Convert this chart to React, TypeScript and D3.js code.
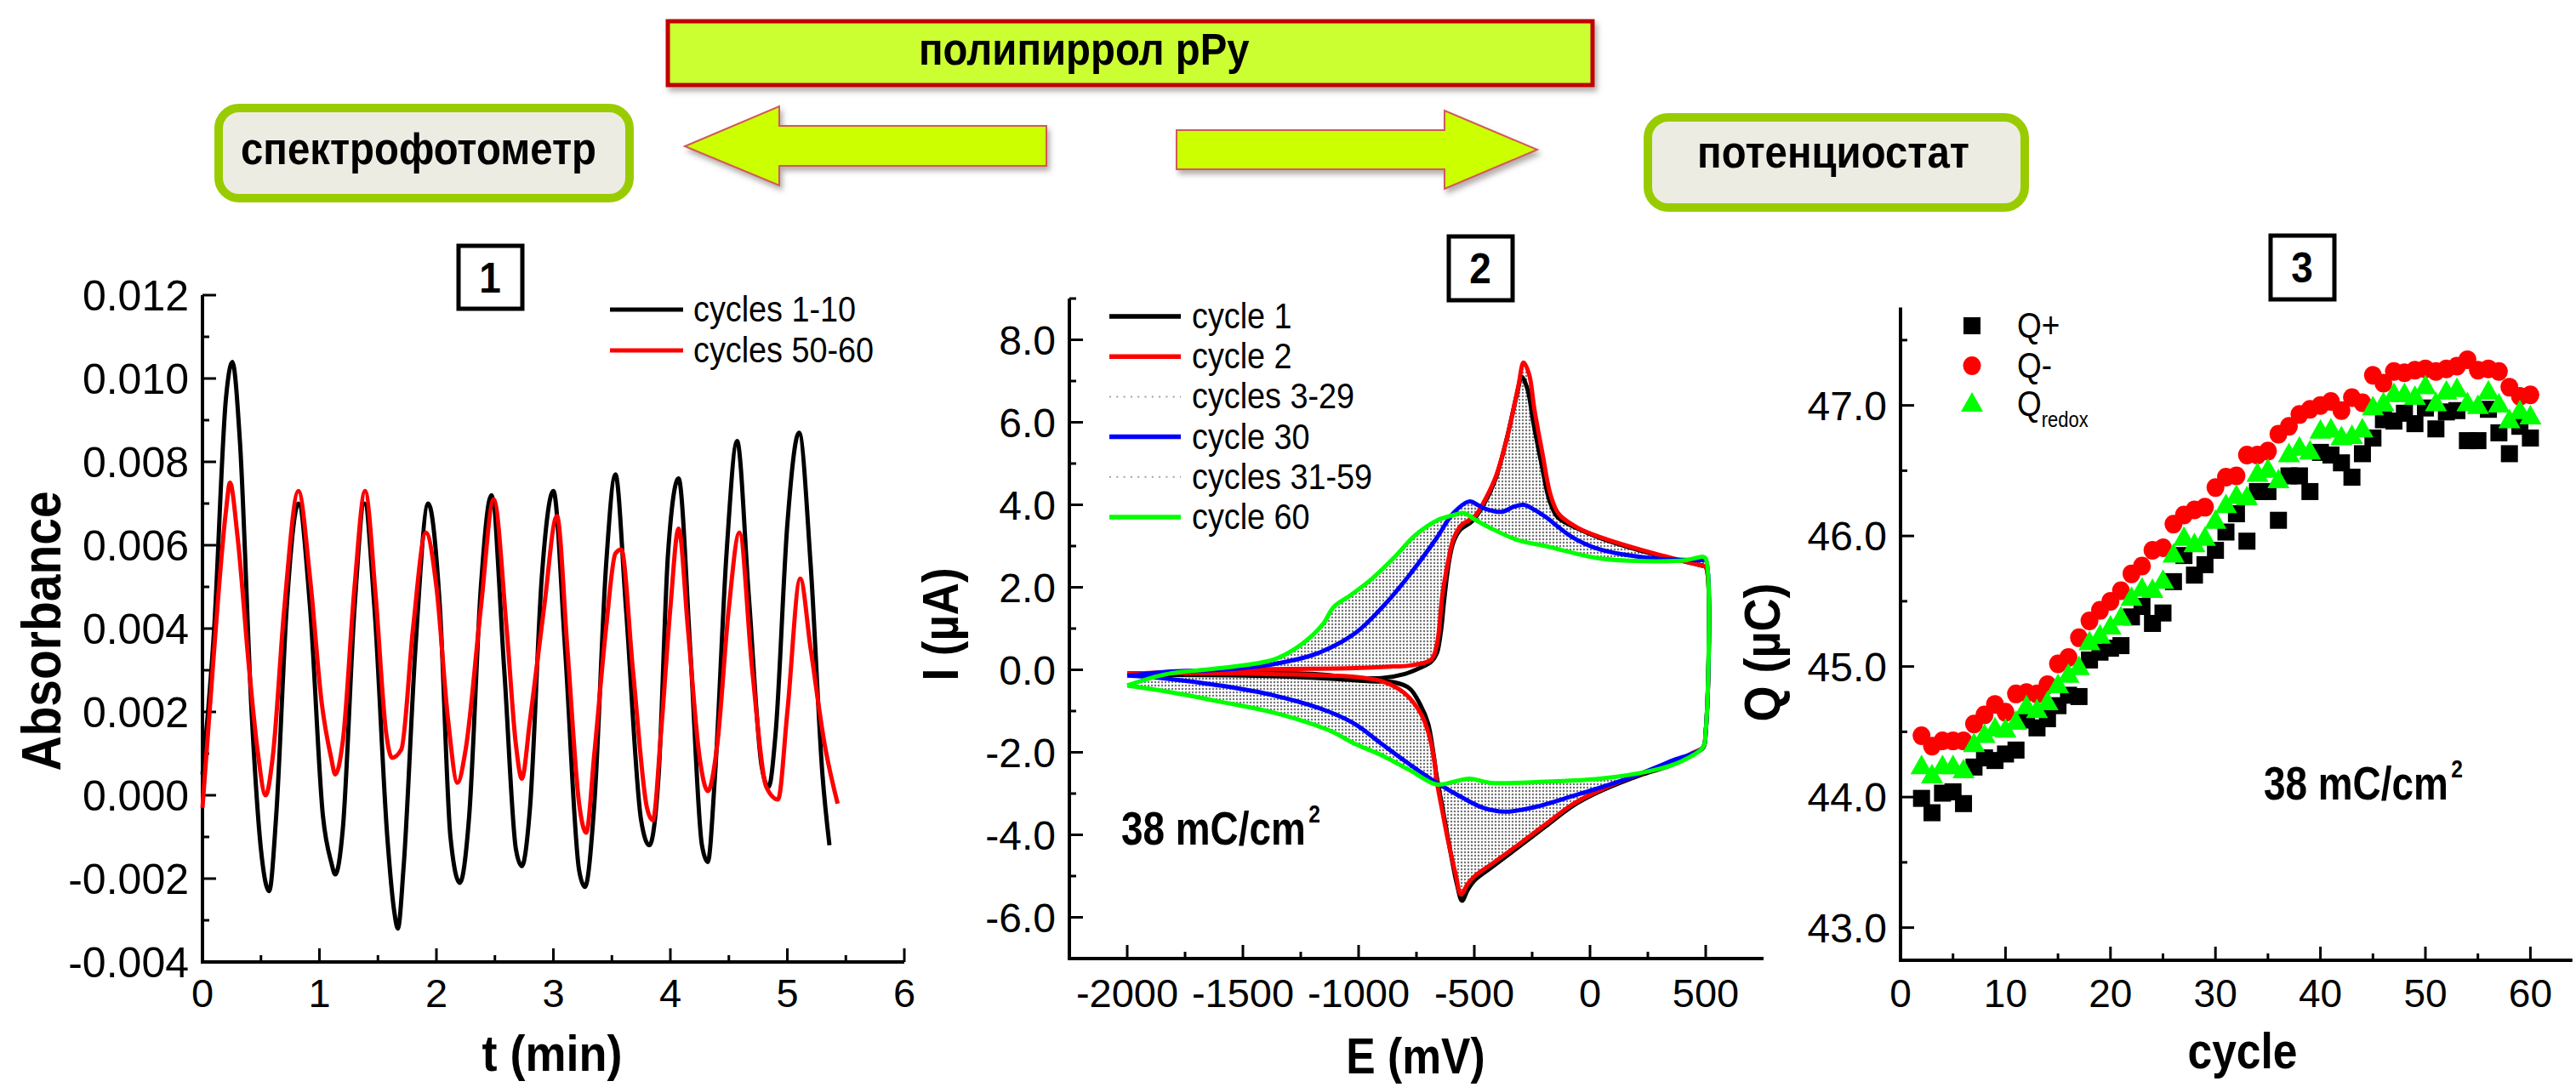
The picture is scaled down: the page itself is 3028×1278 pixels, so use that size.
import React from "react";
import * as d3 from "d3";

const W = 3028;
const H = 1278;
const FONT = "'Liberation Sans', Arial, Helvetica, sans-serif";

// ---------------- Panel 1 : Absorbance vs t ----------------
const absTicksY = [-0.004, -0.002, 0, 0.002, 0.004, 0.006, 0.008, 0.01, 0.012];
const absTickLabelsY = ["-0.004", "-0.002", "0.000", "0.002", "0.004", "0.006", "0.008", "0.010", "0.012"];
const absMinorY = [-0.003, -0.001, 0.001, 0.003, 0.005, 0.007, 0.009, 0.011];
const timeTicks = [0, 1, 2, 3, 4, 5, 6];
const timeMinor = [0.5, 1.5, 2.5, 3.5, 4.5, 5.5];

const absCycles1to10 = [
  [0, 0.0005], [0.1, 0.004], [0.2, 0.0095], [0.255, 0.0104], [0.32, 0.0085], [0.42, 0.002], [0.5, -0.0013], [0.57, -0.0023],
  [0.63, -0.0005], [0.72, 0.0045], [0.82, 0.007], [0.92, 0.0045], [1.03, -0.0005], [1.1, -0.0016], [1.135, -0.0019],
  [1.2, -0.0008], [1.3, 0.0045], [1.385, 0.007], [1.47, 0.0045], [1.58, -0.001], [1.64, -0.0028], [1.67, -0.0032],
  [1.72, -0.0017], [1.82, 0.0035], [1.93, 0.007], [2.03, 0.0045], [2.12, -0.001], [2.2, -0.0021], [2.28, -0.0005],
  [2.38, 0.005], [2.47, 0.0072], [2.58, 0.003], [2.68, -0.0013], [2.73, -0.0017], [2.8, -0.0003], [2.9, 0.0052],
  [3.0, 0.0073], [3.1, 0.0035], [3.22, -0.0018], [3.27, -0.0022], [3.35, -0.0002], [3.45, 0.0055], [3.53, 0.0077],
  [3.62, 0.0045], [3.75, -0.0006], [3.82, -0.0012], [3.9, 0.0005], [3.98, 0.0058], [4.07, 0.0076], [4.17, 0.0035],
  [4.27, -0.0012], [4.32, -0.0016], [4.38, 0.0004], [4.48, 0.0058], [4.57, 0.0085], [4.67, 0.0048], [4.78, 0.0007],
  [4.84, 0.0002], [4.9, 0.0015], [5.0, 0.0065], [5.1, 0.0087], [5.2, 0.0055], [5.3, 0.0005], [5.36, -0.0012],
];
const absCycles50to60 = [
  [0, -0.0003], [0.1, 0.0035], [0.2, 0.0068], [0.235, 0.0075], [0.3, 0.0062], [0.4, 0.003], [0.47, 0.0011], [0.54, 0.0],
  [0.6, 0.0009], [0.7, 0.0045], [0.82, 0.0073], [0.92, 0.0052], [1.02, 0.0022], [1.1, 0.0009], [1.135, 0.0005],
  [1.2, 0.0013], [1.3, 0.005], [1.39, 0.0073], [1.48, 0.0048], [1.57, 0.0015], [1.62, 0.0009], [1.7, 0.0011],
  [1.8, 0.004], [1.91, 0.0063], [2.0, 0.005], [2.1, 0.0018], [2.18, 0.0003], [2.25, 0.0011], [2.38, 0.0045],
  [2.49, 0.0071], [2.6, 0.004], [2.68, 0.0012], [2.73, 0.0004], [2.8, 0.0018], [2.92, 0.0045], [3.03, 0.0067],
  [3.12, 0.0035], [3.22, -0.0002], [3.28, -0.0009], [3.35, 0.001], [3.45, 0.004], [3.53, 0.0058], [3.58, 0.0059],
  [3.68, 0.003], [3.8, -0.0003], [3.85, -0.0006], [3.92, 0.0015], [4.0, 0.0045], [4.07, 0.0064], [4.15, 0.004],
  [4.25, 0.0009], [4.32, 0.0001], [4.4, 0.0012], [4.5, 0.0045], [4.59, 0.0063], [4.7, 0.003], [4.82, 0.0002],
  [4.92, -0.0001], [5.0, 0.002], [5.11, 0.0052], [5.2, 0.0035], [5.32, 0.0012], [5.43, -0.0002],
];

// ---------------- Panel 2 : cyclic voltammograms ----------------
const cvTicksY = [-6, -4, -2, 0, 2, 4, 6, 8];
const cvTickLabelsY = ["-6.0", "-4.0", "-2.0", "0.0", "2.0", "4.0", "6.0", "8.0"];
const cvMinorY = [-5, -3, -1, 1, 3, 5, 7, 9];
const cvTicksX = [-2000, -1500, -1000, -500, 0, 500];
const cvTickLabelsX = ["-2000", "-1500", "-1000", "-500", "0", "500"];
const cvMinorX = [-1750, -1250, -750, -250, 250];

const cycle1Anodic = [
  [-2000, -0.12], [-1600, -0.08], [-1200, -0.1], [-1000, -0.2], [-900, -0.2], [-800, -0.1], [-733, 0.05], [-686, 0.2],
  [-662, 0.4], [-645, 0.9], [-630, 1.7], [-610, 2.6], [-590, 3.1], [-560, 3.4], [-510, 3.6], [-460, 4.0], [-410, 4.6],
  [-360, 5.6], [-315, 6.7], [-295, 7.1], [-270, 6.8], [-245, 6.0], [-210, 5.0], [-175, 4.1], [-140, 3.7], [-52, 3.42],
  [42, 3.2], [277, 2.8], [488, 2.52], [500, 2.5],
];
const cycle1Cathodic = [
  [500, -1.5], [488, -1.9], [441, -2.05], [347, -2.32], [230, -2.53], [42, -2.95], [-75, -3.3], [-193, -3.8],
  [-310, -4.3], [-428, -4.8], [-498, -5.1], [-530, -5.35], [-553, -5.6], [-575, -5.2], [-610, -4.2], [-639, -3.3],
  [-662, -2.6], [-680, -1.9], [-700, -1.3], [-733, -0.85], [-780, -0.45], [-850, -0.3], [-950, -0.28], [-1100, -0.22],
  [-1400, -0.15], [-2000, -0.12],
];
const cycle2Anodic = [
  [-2000, -0.1], [-1800, -0.05], [-1600, 0.0], [-1300, 0.02], [-1014, 0.04], [-850, 0.08], [-780, 0.1], [-686, 0.25],
  [-662, 0.61], [-651, 1.05], [-639, 1.77], [-615, 2.57], [-592, 3.14], [-557, 3.5], [-498, 3.72], [-451, 4.15],
  [-404, 4.73], [-357, 5.66], [-310, 6.87], [-287, 7.45], [-263, 7.16], [-240, 6.3], [-205, 5.23], [-170, 4.23],
  [-134, 3.77], [-52, 3.44], [42, 3.22], [277, 2.82], [488, 2.52], [500, 2.5],
];
const cycle2Cathodic = [
  [500, -1.5], [488, -1.88], [441, -2.02], [347, -2.29], [230, -2.5], [42, -2.92], [-75, -3.26], [-193, -3.75],
  [-310, -4.24], [-428, -4.72], [-498, -5.0], [-530, -5.2], [-557, -5.45], [-580, -4.97], [-615, -4.1], [-639, -3.4],
  [-662, -2.71], [-674, -2.16], [-698, -1.53], [-733, -1.04], [-803, -0.56], [-897, -0.28], [-1000, -0.18],
  [-1131, -0.14], [-1600, -0.08], [-2000, -0.08],
];
const cycle30Anodic = [
  [-2000, -0.15], [-1835, -0.05], [-1600, 0.0], [-1366, 0.14], [-1178, 0.4], [-1014, 0.89], [-897, 1.52], [-780, 2.3],
  [-662, 3.2], [-592, 3.79], [-522, 4.08], [-480, 3.98], [-451, 3.9], [-381, 3.83], [-330, 3.95], [-287, 4.0],
  [-240, 3.88], [-193, 3.71], [-75, 3.21], [42, 2.92], [277, 2.7], [488, 2.66], [500, 2.66],
];
const cycle30Cathodic = [
  [500, -1.5], [488, -1.88], [347, -2.22], [159, -2.64], [-75, -3.06], [-240, -3.33], [-369, -3.44], [-460, -3.35],
  [-545, -3.12], [-662, -2.74], [-780, -2.29], [-897, -1.81], [-1014, -1.32], [-1131, -1.01], [-1366, -0.62],
  [-1600, -0.38], [-1835, -0.21], [-2000, -0.14],
];
const cycle60Anodic = [
  [-2000, -0.38], [-1835, -0.11], [-1600, 0.04], [-1366, 0.25], [-1249, 0.61], [-1155, 1.1], [-1108, 1.52],
  [-1037, 1.8], [-944, 2.2], [-850, 2.7], [-756, 3.26], [-662, 3.62], [-590, 3.75], [-545, 3.8], [-500, 3.65],
  [-428, 3.43], [-310, 3.14], [-193, 3.0], [42, 2.7], [277, 2.63], [418, 2.66], [488, 2.74], [500, 2.7],
];
const cycle60Cathodic = [
  [500, -1.5], [488, -1.88], [394, -2.22], [277, -2.43], [42, -2.64], [-193, -2.71], [-428, -2.74], [-522, -2.64],
  [-580, -2.7], [-662, -2.78], [-780, -2.43], [-897, -2.08], [-1014, -1.8], [-1131, -1.46], [-1366, -1.04],
  [-1600, -0.77], [-1835, -0.52], [-2000, -0.38],
];

// ---------------- Panel 3 : charge vs cycle ----------------
const qTicksY = [43, 44, 45, 46, 47];
const qTickLabelsY = ["43.0", "44.0", "45.0", "46.0", "47.0"];
const qMinorY = [43.5, 44.5, 45.5, 46.5, 47.5];
const cycleTicks = [0, 10, 20, 30, 40, 50, 60];
const cycleMinor = [5, 15, 25, 35, 45, 55];
const cycleNumbers = d3.range(2, 61);
const qPlus = [
  43.99, 43.88, 44.03, 44.04, 43.95, 44.23, 44.3, 44.28, 44.33, 44.36, 44.59, 44.53, 44.6, 44.7, 44.78, 44.77, 45.05,
  45.11, 45.14, 45.16, 45.38, 45.46, 45.33, 45.41, 45.65, 45.85, 45.7, 45.78, 45.89, 46.03, 46.17, 45.96, 46.34, 46.34,
  46.12, 46.46, 46.46, 46.34, 46.64, 46.62, 46.56, 46.45, 46.63, 46.75, 46.89, 46.88, 46.94, 46.86, 46.98, 46.82,
  46.95, 46.96, 46.73, 46.73, 46.97, 46.79, 46.63, 46.84, 46.75,
];
const qMinus = [
  44.47, 44.39, 44.43, 44.43, 44.43, 44.56, 44.63, 44.71, 44.65, 44.79, 44.8, 44.79, 44.86, 45.02, 45.07, 45.22, 45.35,
  45.43, 45.5, 45.58, 45.71, 45.77, 45.89, 45.91, 46.09, 46.16, 46.2, 46.22, 46.37, 46.45, 46.46, 46.62, 46.62, 46.65,
  46.78, 46.84, 46.93, 46.97, 47.0, 47.03, 46.96, 47.06, 47.02, 47.23, 47.17, 47.26, 47.25, 47.27, 47.28, 47.26,
  47.28, 47.3, 47.35, 47.27, 47.28, 47.26, 47.14, 47.07, 47.08,
];
const qRedox = [
  44.24, 44.17, 44.24, 44.24, 44.21, 44.41, 44.48, 44.53, 44.52, 44.58, 44.7, 44.67, 44.73, 44.86, 44.94, 45.0, 45.19,
  45.24, 45.31, 45.38, 45.53, 45.6, 45.59, 45.66, 45.86, 45.99, 45.94, 45.99, 46.12, 46.24, 46.31, 46.3, 46.48, 46.51,
  46.43, 46.63, 46.68, 46.65, 46.81, 46.82, 46.76, 46.77, 46.82, 46.99, 47.02, 47.09, 47.09, 47.07, 47.15, 47.02,
  47.11, 47.13, 47.02, 47.0, 47.11, 47.01, 46.89, 46.96, 46.92,
];

const AXW = 4;
const MAJ = 16;
const MIN = 8;

// condensed text helper (scaled along the writing direction)
function CT({ x, y, size, sx = 1, rot = 0, bold = false, anchor = "start", children }: any) {
  return (
    <text
      transform={`translate(${x},${y}) rotate(${rot}) scale(${sx},1)`}
      fontSize={size}
      fontFamily={FONT}
      fontWeight={bold ? 700 : 400}
      textAnchor={anchor}
      fill="#000"
    >
      {children}
    </text>
  );
}

function AxisFrame({ xs, ys, xDom, yDom, xMajor, xMinor, yMajor, yMinor, xLabels, yLabels, ySize, xSize }: any) {
  const [xa, xb] = xDom;
  const [ya, yb] = yDom;
  const X0 = xs(xa);
  const X1 = xs(xb);
  const Y0 = ys(ya);
  const Y1 = ys(yb);
  return (
    <g>
      <line x1={X0} y1={Y1} x2={X0} y2={Y0} stroke="#000" strokeWidth={AXW} />
      <line x1={X0 - 2} y1={Y0} x2={X1} y2={Y0} stroke="#000" strokeWidth={AXW} />
      {yMajor.map((v: number) => (
        <line key={"ym" + v} x1={X0} x2={X0 + MAJ} y1={ys(v)} y2={ys(v)} stroke="#000" strokeWidth={3} />
      ))}
      {yMinor.map((v: number) => (
        <line key={"yn" + v} x1={X0} x2={X0 + MIN} y1={ys(v)} y2={ys(v)} stroke="#000" strokeWidth={3} />
      ))}
      {xMajor.map((v: number) => (
        <line key={"xm" + v} x1={xs(v)} x2={xs(v)} y1={Y0} y2={Y0 - MAJ} stroke="#000" strokeWidth={3} />
      ))}
      {xMinor.map((v: number) => (
        <line key={"xn" + v} x1={xs(v)} x2={xs(v)} y1={Y0} y2={Y0 - MIN} stroke="#000" strokeWidth={3} />
      ))}
      {yMajor.map((v: number, i: number) => (
        <text key={"yl" + v} x={X0 - 16} y={ys(v) + ySize * 0.36} textAnchor="end" fontSize={ySize} fontFamily={FONT}>
          {yLabels[i]}
        </text>
      ))}
      {xMajor.map((v: number, i: number) => (
        <text key={"xl" + v} x={xs(v)} y={1184} textAnchor="middle" fontSize={xSize} fontFamily={FONT}>
          {xLabels[i]}
        </text>
      ))}
    </g>
  );
}

export default function App() {
  const x1 = d3.scaleLinear().domain([0, 6]).range([238, 1063]);
  const y1 = d3.scaleLinear().domain([-0.004, 0.012]).range([1131, 347]);
  const x2 = d3.scaleLinear().domain([-2250, 750]).range([1257, 2073]);
  const y2 = d3.scaleLinear().domain([-7, 9]).range([1127, 351]);
  const x3 = d3.scaleLinear().domain([0, 64]).range([2234, 2234 + 64 * 12.34]);
  const y3 = d3.scaleLinear().domain([42.75, 47.75]).range([1129, 361.5]);

  const line1 = d3
    .line()
    .x((d: any) => x1(d[0]))
    .y((d: any) => y1(d[1]))
    .curve(d3.curveMonotoneX);
  const line2 = d3
    .line()
    .x((d: any) => x2(d[0]))
    .y((d: any) => y2(d[1]))
    .curve(d3.curveCatmullRom.alpha(0.5));
  const loop = (a: any[], c: any[]) => line2([...a, ...c] as any) as string;

  const c1 = loop(cycle1Anodic, cycle1Cathodic);
  const c2 = loop(cycle2Anodic, cycle2Cathodic);
  const c30 = loop(cycle30Anodic, cycle30Cathodic);
  const c60 = loop(cycle60Anodic, cycle60Cathodic);

  const legend2 = [
    { label: "cycle 1", color: "#000", dotted: false },
    { label: "cycle 2", color: "#ff0000", dotted: false },
    { label: "cycles 3-29", color: "#a0a0a0", dotted: true },
    { label: "cycle 30", color: "#0000ff", dotted: false },
    { label: "cycles 31-59", color: "#a0a0a0", dotted: true },
    { label: "cycle 60", color: "#00ff00", dotted: false },
  ];

  return (
    <svg
      width={W}
      height={H}
      viewBox={`0 0 ${W} ${H}`}
      style={{ position: "absolute", left: 0, top: 0, background: "#fff" }}
    >
      <defs>
        <filter id="shadow" x="-10%" y="-20%" width="130%" height="160%">
          <feDropShadow dx="3" dy="5" stdDeviation="3" floodColor="#7a6a6a" floodOpacity="0.55" />
        </filter>
        <pattern id="dots" width="4" height="4" patternUnits="userSpaceOnUse">
          <circle cx="2" cy="2" r="1.25" fill="#757575" />
        </pattern>
      </defs>
      <rect x={0} y={0} width={W} height={H} fill="#fff" />

      {/* ---------- top scheme ---------- */}
      <rect x={785} y={25} width={1087} height={75} fill="#ccff33" stroke="#c00000" strokeWidth={5} filter="url(#shadow)" />
      <CT x={1080} y={76} size={52} sx={0.91} bold>
        полипиррол pPy
      </CT>

      <rect x={257} y={127} width={483} height={106} rx={24} fill="#edece2" stroke="#99cc00" strokeWidth={10} />
      <CT x={492} y={193} size={52} sx={0.91} bold anchor="middle">
        спектрофотометр
      </CT>

      <rect x={1937} y={138} width={443} height={106} rx={24} fill="#edece2" stroke="#99cc00" strokeWidth={10} />
      <CT x={2155} y={197} size={52} sx={0.91} bold anchor="middle">
        потенциостат
      </CT>

      <polygon
        points="805,172 916,125 916,148 1230,148 1230,195 916,195 916,218"
        fill="#ccff00"
        stroke="#d05a5a"
        strokeWidth={2}
        filter="url(#shadow)"
      />
      <polygon
        points="1383,153 1698,153 1698,130 1807,176 1698,222 1698,199 1383,199"
        fill="#ccff00"
        stroke="#d05a5a"
        strokeWidth={2}
        filter="url(#shadow)"
      />

      {/* ---------- panel labels ---------- */}
      <rect x={539} y={289} width={75} height={74} fill="#fff" stroke="#000" strokeWidth={5} />
      <CT x={576} y={344} size={50} sx={0.92} bold anchor="middle">1</CT>
      <rect x={1703} y={278} width={75} height={75} fill="#fff" stroke="#000" strokeWidth={5} />
      <CT x={1740} y={333} size={50} sx={0.92} bold anchor="middle">2</CT>
      <rect x={2669} y={277} width={75} height={75} fill="#fff" stroke="#000" strokeWidth={5} />
      <CT x={2706} y={332} size={50} sx={0.92} bold anchor="middle">3</CT>

      {/* ---------- panel 1 ---------- */}
      <AxisFrame
        xs={x1}
        ys={y1}
        xDom={[0, 6]}
        yDom={[-0.004, 0.012]}
        xMajor={timeTicks}
        xMinor={timeMinor}
        yMajor={absTicksY}
        yMinor={absMinorY}
        xLabels={timeTicks.map(String)}
        yLabels={absTickLabelsY}
        ySize={50}
        xSize={47}
      />
      <path d={line1(absCycles1to10 as any) as string} fill="none" stroke="#000" strokeWidth={5} strokeLinejoin="round" />
      <path d={line1(absCycles50to60 as any) as string} fill="none" stroke="#ff0000" strokeWidth={5} strokeLinejoin="round" />
      <line x1={717} x2={803} y1={364} y2={364} stroke="#000" strokeWidth={5} />
      <CT x={815} y={378} size={42} sx={0.9}>cycles 1-10</CT>
      <line x1={717} x2={803} y1={412} y2={412} stroke="#ff0000" strokeWidth={5} />
      <CT x={815} y={426} size={42} sx={0.9}>cycles 50-60</CT>
      <CT x={71} y={742} rot={-90} size={64} sx={0.89} bold anchor="middle">
        Absorbance
      </CT>
      <CT x={649} y={1259} size={60} sx={0.9} bold anchor="middle">
        t (min)
      </CT>

      {/* ---------- panel 2 ---------- */}
      <path d={c2 + c30} fill="url(#dots)" fillRule="evenodd" stroke="none" />
      <path d={c30 + c60} fill="url(#dots)" fillRule="evenodd" stroke="none" />
      <AxisFrame
        xs={x2}
        ys={y2}
        xDom={[-2250, 750]}
        yDom={[-7, 9]}
        xMajor={cvTicksX}
        xMinor={cvMinorX}
        yMajor={cvTicksY}
        yMinor={cvMinorY}
        xLabels={cvTickLabelsX}
        yLabels={cvTickLabelsY}
        ySize={48}
        xSize={47}
      />
      <path d={c1} fill="none" stroke="#000" strokeWidth={5} strokeLinejoin="round" />
      <path d={c2} fill="none" stroke="#ff0000" strokeWidth={5} strokeLinejoin="round" />
      <path d={c30} fill="none" stroke="#0000ff" strokeWidth={5} strokeLinejoin="round" />
      <path d={c60} fill="none" stroke="#00ff00" strokeWidth={5} strokeLinejoin="round" />
      {legend2.map((e, i) => {
        const yy = 372 + i * 47.2;
        return (
          <g key={e.label}>
            <line
              x1={1304}
              x2={1388}
              y1={yy}
              y2={yy}
              stroke={e.color}
              strokeWidth={e.dotted ? 2 : 5.5}
              strokeDasharray={e.dotted ? "2,6.3" : undefined}
            />
            <CT x={1401} y={yy + 14} size={42} sx={0.9}>
              {e.label}
            </CT>
          </g>
        );
      })}
      <CT x={1318} y={993} size={56} sx={0.82} bold>
        38 mC/cm
        <tspan dx={4} dy={-26} fontSize={30}>2</tspan>
      </CT>
      <CT x={1126} y={734} rot={-90} size={60} sx={0.88} bold anchor="middle">
        I (µA)
      </CT>
      <CT x={1664} y={1262} size={60} sx={0.86} bold anchor="middle">
        E (mV)
      </CT>

      {/* ---------- panel 3 ---------- */}
      <AxisFrame
        xs={x3}
        ys={y3}
        xDom={[0, 64]}
        yDom={[42.75, 47.75]}
        xMajor={cycleTicks}
        xMinor={cycleMinor}
        yMajor={qTicksY}
        yMinor={qMinorY}
        xLabels={cycleTicks.map(String)}
        yLabels={qTickLabelsY}
        ySize={48}
        xSize={46}
      />
      {cycleNumbers.map((c, i) => (
        <rect key={"qp" + c} x={x3(c) - 10} y={y3(qPlus[i]) - 10} width={20} height={20} fill="#000" />
      ))}
      {cycleNumbers.map((c, i) => (
        <ellipse key={"qm" + c} cx={x3(c)} cy={y3(qMinus[i])} rx={10.5} ry={11} fill="#ff0000" />
      ))}
      {cycleNumbers.map((c, i) => {
        const cx = x3(c);
        const cy = y3(qRedox[i]);
        return <path key={"qr" + c} d={`M${cx},${cy - 13} L${cx + 13},${cy + 10} L${cx - 13},${cy + 10} Z`} fill="#00ff00" />;
      })}
      <rect x={2308} y={373} width={20} height={20} fill="#000" />
      <CT x={2371} y={397} size={42} sx={0.88}>Q+</CT>
      <ellipse cx={2318} cy={430} rx={10.5} ry={11} fill="#ff0000" />
      <CT x={2371} y={444} size={42} sx={0.88}>Q-</CT>
      <path d="M2318,461 L2331,484 L2305,484 Z" fill="#00ff00" />
      <CT x={2371} y={489} size={42} sx={0.88}>
        Q<tspan dy={13} fontSize={25}>redox</tspan>
      </CT>
      <CT x={2661} y={940} size={56} sx={0.82} bold>
        38 mC/cm
        <tspan dx={4} dy={-26} fontSize={30}>2</tspan>
      </CT>
      <CT x={2092} y={767} rot={-90} size={60} sx={0.9} bold anchor="middle">
        Q (µC)
      </CT>
      <CT x={2636} y={1256} size={60} sx={0.86} bold anchor="middle">
        cycle
      </CT>
    </svg>
  );
}
